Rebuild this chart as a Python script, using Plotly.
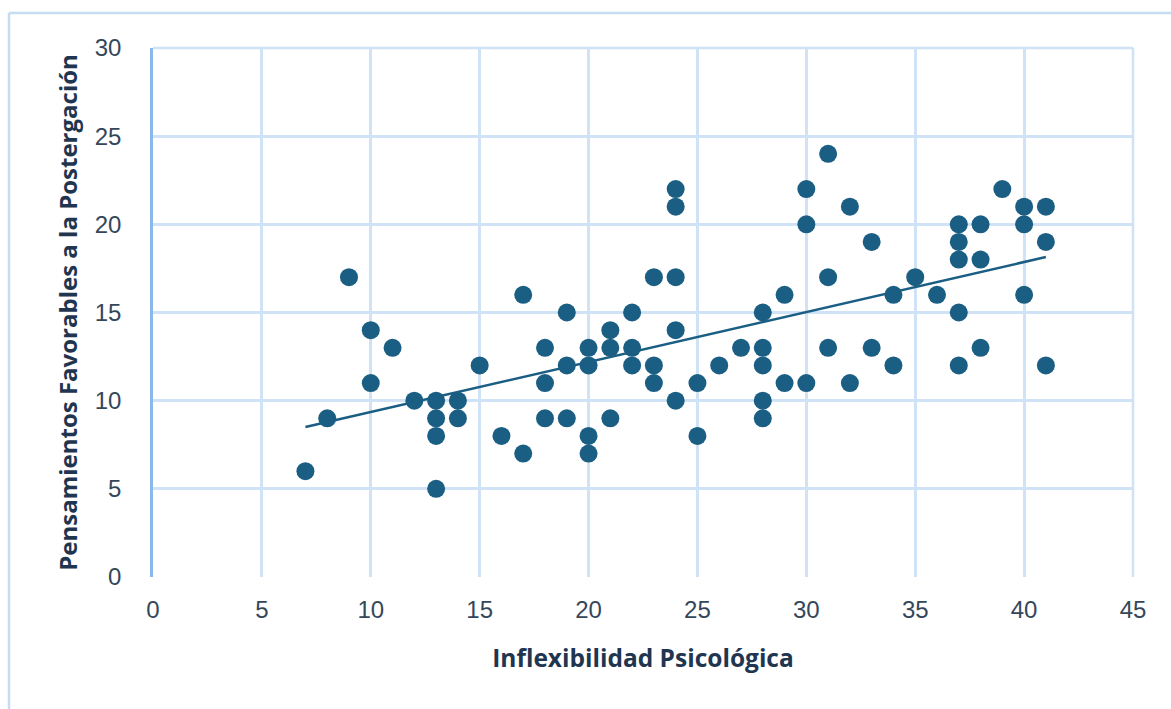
import numpy as np
import plotly.graph_objects as go

# Inflexibilidad Psicológica (x) vs Pensamientos Favorables a la Postergación (y)
inflexibilidad = [
    7, 8, 9, 10, 10, 11, 12,
    13, 13, 13, 13, 14, 14, 15, 16, 17, 17,
    18, 18, 18, 19, 19, 19, 20, 20, 20, 20,
    21, 21, 21, 22, 22, 22, 23, 23, 23,
    24, 24, 24, 24, 24, 25, 25, 26, 27,
    28, 28, 28, 28, 28, 29, 29, 30, 30, 30,
    31, 31, 31, 32, 32, 33, 33, 34, 34, 35, 36,
    37, 37, 37, 37, 37, 38, 38, 38, 39,
    40, 40, 40, 41, 41, 41,
]
postergacion = [
    6, 9, 17, 14, 11, 13, 10,
    10, 9, 8, 5, 10, 9, 12, 8, 16, 7,
    13, 11, 9, 15, 12, 9, 13, 12, 8, 7,
    14, 13, 9, 15, 13, 12, 17, 12, 11,
    22, 21, 17, 14, 10, 11, 8, 12, 13,
    15, 13, 12, 10, 9, 16, 11, 22, 20, 11,
    24, 17, 13, 21, 11, 19, 13, 16, 12, 17, 16,
    20, 19, 18, 15, 12, 20, 18, 13, 22,
    21, 20, 16, 21, 19, 12,
]

x_ticks = [0, 5, 10, 15, 20, 25, 30, 35, 40, 45]
y_ticks = [0, 5, 10, 15, 20, 25, 30]

# Linear trend line over the observed range
slope, intercept = np.polyfit(inflexibilidad, postergacion, 1)
trend_x = [min(inflexibilidad), max(inflexibilidad)]
trend_y = [slope * v + intercept for v in trend_x]

point_color = "#1b5e83"
grid_color = "#cfe2f6"
tick_color = "#34475a"
title_color = "#1f3550"

fig = go.Figure()
fig.add_trace(go.Scatter(
    x=inflexibilidad, y=postergacion, mode="markers",
    marker=dict(size=18, color=point_color, line=dict(width=0)),
    showlegend=False, hoverinfo="x+y",
))
fig.add_trace(go.Scatter(
    x=trend_x, y=trend_y, mode="lines",
    line=dict(color=point_color, width=2.5),
    showlegend=False, hoverinfo="skip",
))

L, R, T, B = 153, 38, 48, 132
W, H = 1171, 709
pw, ph = W - L - R, H - T - B

def px_to_paper_x(px):
    return (px - L) / pw

def px_to_paper_y(py):
    return (H - B - py) / ph

frame_color = "#c6dcf3"

fig.update_layout(
    width=W, height=H,
    margin=dict(l=L, r=R, t=T, b=B),
    paper_bgcolor="white", plot_bgcolor="white",
    font=dict(family="Liberation Sans, Arial, sans-serif", color=tick_color),
    xaxis=dict(
        range=[0, 45], tickvals=x_ticks, ticktext=[str(v) for v in x_ticks],
        showgrid=True, gridcolor=grid_color, gridwidth=2.5,
        zeroline=False, showline=False,
        tickfont=dict(size=24, color=tick_color),
        ticks="", ticklabelstandoff=16,
        title=dict(text="<b>Inflexibilidad Psicológica</b>",
                   font=dict(family="Open Sans, sans-serif", size=24.5, color=title_color),
                   standoff=27),
        fixedrange=True,
    ),
    yaxis=dict(
        range=[0, 30], tickvals=y_ticks, ticktext=[str(v) for v in y_ticks],
        showgrid=True, gridcolor=grid_color, gridwidth=2.5,
        zeroline=False, showline=True, linecolor="#8ab8ea", linewidth=2.5,
        tickfont=dict(size=24, color=tick_color),
        ticks="", ticklabelstandoff=24,
        title=dict(text="<b>Pensamientos Favorables a la Postergación</b>",
                   font=dict(family="Open Sans, sans-serif", size=24, color=title_color),
                   standoff=11),
        fixedrange=True,
    ),
    shapes=[
        # outer chart frame (top and left edges)
        dict(type="line", xref="paper", yref="paper",
             x0=px_to_paper_x(9), x1=px_to_paper_x(W + 5),
             y0=px_to_paper_y(13), y1=px_to_paper_y(13),
             line=dict(color=frame_color, width=2.5)),
        dict(type="line", xref="paper", yref="paper",
             x0=px_to_paper_x(9), x1=px_to_paper_x(9),
             y0=px_to_paper_y(13), y1=px_to_paper_y(H + 5),
             line=dict(color=frame_color, width=2.5)),
        # upper and right borders of the plotting area
        dict(type="line", xref="paper", yref="paper",
             x0=0, x1=1, y0=1, y1=1,
             line=dict(color=grid_color, width=2.5), layer="below"),
        dict(type="line", xref="paper", yref="paper",
             x0=1, x1=1, y0=0, y1=1,
             line=dict(color=grid_color, width=2.5), layer="below"),
    ],
)

fig.write_html("out.html")
